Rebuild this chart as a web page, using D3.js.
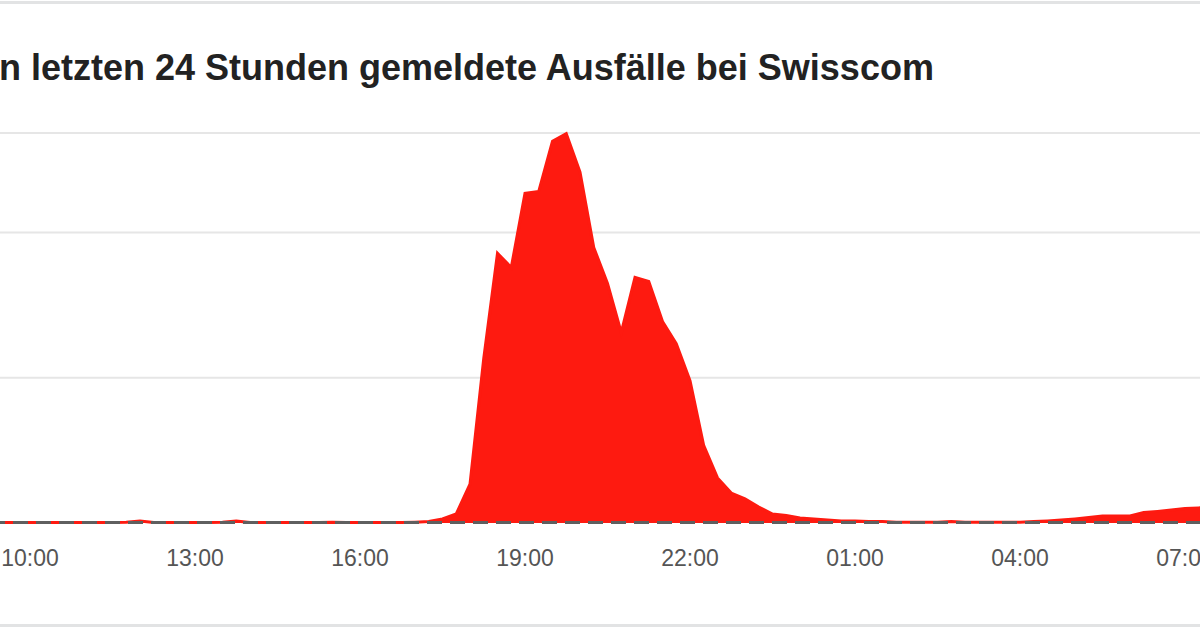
<!DOCTYPE html>
<html>
<head>
<meta charset="utf-8">
<script src="https://cdn.jsdelivr.net/npm/d3@7"></script>
<style>
  html, body { margin: 0; padding: 0; background: #fff; }
  svg { display: block; }
</style>
</head>
<body>
<div id="chart"></div>
<script>
var width = 1200, height = 627;

var title = "n letzten 24 Stunden gemeldete Ausfälle bei Swisscom";

// reports every 15 minutes, 09:15 -> 07:30 next day
var startTime = "2024-01-01T09:15";
var endTime = "2024-01-02T07:30";
var reports = [
    2, 2, 2, 2, 2, 2, 2, 2, 2, 2, 3, 7,
    2, 2, 2, 2, 2, 3, 7, 2, 2, 2, 2, 2,
    2, 3, 2, 2, 2, 2, 2, 3, 5, 14, 31, 134,
    566, 928, 879, 1134, 1141, 1314, 1340, 1207, 948, 824, 655, 845,
    831, 693, 617, 490, 266, 155, 103, 83, 55, 31, 26, 17,
    14, 10, 7, 7, 5, 5, 3, 3, 3, 3, 5, 3,
    3, 3, 3, 3, 5, 7, 10, 14, 19, 24, 24, 24,
    36, 40, 45, 50, 52, 53
];

var tickLabels = ["10:00", "13:00", "16:00", "19:00", "22:00", "01:00", "04:00", "07:00"];
var gridValues = [500, 1000];
var baselineValue = 2;

var parse = d3.timeParse("%Y-%m-%dT%H:%M");
var times = d3.timeMinute.every(15).range(parse(startTime), d3.timeMinute.offset(parse(endTime), 1));
var data = times.map(function(t, i) { return { t: t, v: reports[i] }; });

var svg = d3.select("#chart")
    .append("svg")
    .attr("width", width)
    .attr("height", height);

var x = d3.scaleTime()
    .domain([parse("2024-01-01T10:00"), parse("2024-01-02T07:00")])
    .range([30, 1185]);

var y = d3.scaleLinear()
    .domain([0, 1342])
    .range([523, 133]);

// frame lines
svg.append("rect").attr("x", 0).attr("y", 1).attr("width", width).attr("height", 3).attr("fill", "#e2e3e4");
svg.append("rect").attr("x", 0).attr("y", 624).attr("width", width).attr("height", 3).attr("fill", "#e2e3e4");

// title
svg.append("text")
    .attr("x", -1)
    .attr("y", 80)
    .attr("font-family", "Liberation Sans, Arial, sans-serif")
    .attr("font-weight", "bold")
    .attr("font-size", 36)
    .attr("fill", "#222")
    .text(title);

// grid
var grid = svg.append("g");
grid.selectAll("line")
    .data(gridValues.concat([y.domain()[1]]))
    .enter()
    .append("line")
    .attr("x1", 0)
    .attr("x2", width)
    .attr("y1", function(d) { return y(d); })
    .attr("y2", function(d) { return y(d); })
    .attr("stroke", "#e6e6e6")
    .attr("stroke-width", 2);

svg.append("defs").append("clipPath").attr("id", "clip")
    .append("rect").attr("x", 0).attr("y", 0).attr("width", width).attr("height", height);

var area = d3.area()
    .x(function(d) { return x(d.t); })
    .y0(y(0))
    .y1(function(d) { return y(d.v); });

var line = d3.line()
    .x(function(d) { return x(d.t); })
    .y(function(d) { return y(d.v); });

var plot = svg.append("g").attr("clip-path", "url(#clip)");

plot.append("path")
    .datum(data)
    .attr("d", area)
    .attr("fill", "#fe1a10");

plot.append("path")
    .datum(data)
    .attr("d", line)
    .attr("fill", "none")
    .attr("stroke", "#fe1a10")
    .attr("stroke-width", 3);

// baseline (dashed)
plot.append("line")
    .attr("x1", 0)
    .attr("x2", width)
    .attr("y1", y(baselineValue))
    .attr("y2", y(baselineValue))
    .attr("stroke", "#5f5f5f")
    .attr("stroke-width", 3)
    .attr("stroke-dasharray", "15,8")
    .attr("stroke-dashoffset", 10);

// x axis labels
var tickTimes = tickLabels.map(function(s, i) {
    var day = i < 5 ? "2024-01-01T" : "2024-01-02T";
    return parse(day + s);
});

svg.append("g")
    .selectAll("text")
    .data(tickTimes)
    .enter()
    .append("text")
    .attr("x", function(d) { return x(d); })
    .attr("y", 566)
    .attr("text-anchor", "middle")
    .attr("font-family", "Liberation Sans, Arial, sans-serif")
    .attr("font-size", 23)
    .attr("fill", "#555")
    .text(function(d, i) { return tickLabels[i]; });
</script>
</body>
</html>
